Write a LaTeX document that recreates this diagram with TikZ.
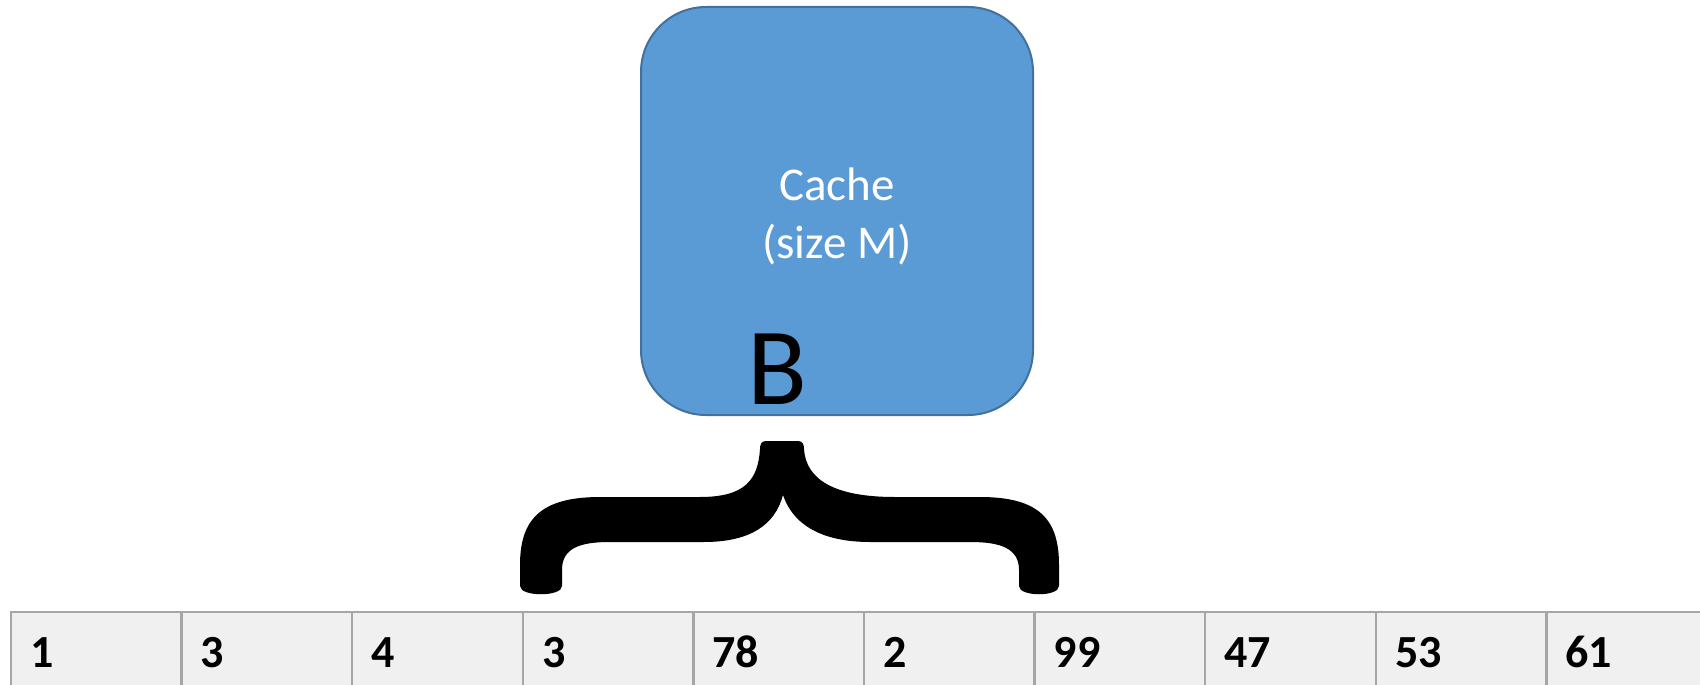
\documentclass[tikz,border=0pt]{standalone}
\usepackage{fontspec}
\setmainfont{Carlito}
\definecolor{cachefill}{HTML}{5B9BD5}
\definecolor{cacheline}{HTML}{41719C}
\definecolor{cellfill}{HTML}{F0F0F0}
\definecolor{cellline}{HTML}{A6A6A6}
\tikzset{
  cachebox/.style={draw=cacheline, fill=cachefill, line width=2pt, rounded corners=65pt},
  cachetext/.style={text=white, font=\fontsize{47}{58}\selectfont, inner sep=0pt, anchor=base},
  blocklabel/.style={text=black, font=\fontsize{110}{120}\selectfont, inner sep=0pt, anchor=base},
  cell/.style={draw=cellline, fill=cellfill, line width=2.5pt},
  celltext/.style={font=\bfseries\fontsize{46}{55}\selectfont, inner sep=0pt, anchor=base west},
}
\begin{document}
\begin{tikzpicture}[x=1pt, y=-1pt]
  \clip (0,0) rectangle (1700,685);
  \fill[white] (0,0) rectangle (1700,685);

  % cache box with its label
  \draw[cachebox] (641,7) rectangle (1033,415);
  \node[cachetext] (cache1) at (837,200) {Cache};
  \node[cachetext] (cache2) at (837,258) {(size M)};
  \node[blocklabel] (blk) at (777,404) {B};

  % horizontal curly brace marking one block
  \fill[black] (766,441) -- (798,441)
    .. controls (803,441) and (804,445) .. (804,449)
    .. controls (806,480) and (835,497) .. (895,497)
    -- (980,497)
    .. controls (1040,497) and (1059,520) .. (1059,565)
    -- (1059,586) .. controls (1059,597) and (1019,597) .. (1019,586)
    -- (1019,570) .. controls (1019,548) and (1000,542) .. (970,542)
    -- (870,542) .. controls (830,542) and (795,530) .. (783,495)
    .. controls (775,525) and (750,542) .. (704,542)
    -- (610,542) .. controls (580,542) and (562,548) .. (562,570)
    -- (562,586) .. controls (562,597) and (520,597) .. (520,586)
    -- (520,565) .. controls (520,520) and (540,497) .. (600,497)
    -- (700,497) .. controls (745,497) and (758,480) .. (760,449)
    .. controls (760,445) and (761,441) .. (766,441) -- cycle;

  % memory array
  \foreach \v [count=\i from 0] in {1,3,4,3,78,2,99,47,53,61} {
    \draw[cell] ({11+170.6*\i},612) rectangle ({11+170.6*(\i+1)},700);
    \node[celltext] (c\i) at ({11+170.6*\i+19},667) {\v};
  }
\end{tikzpicture}
\end{document}
